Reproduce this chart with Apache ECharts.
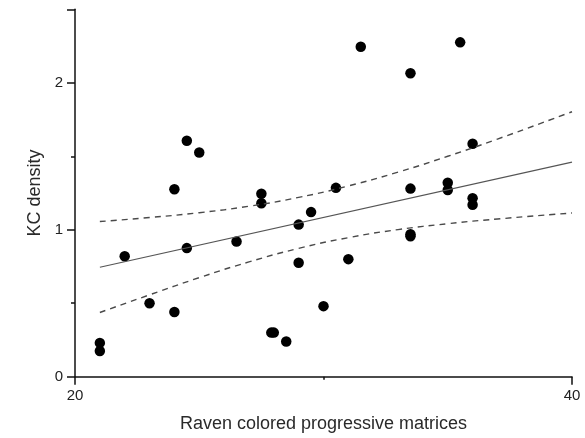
<!DOCTYPE html>
<html>
<head>
<meta charset="utf-8">
<script src="https://cdn.jsdelivr.net/npm/echarts@6/dist/echarts.min.js"></script>
<style>
html,body{margin:0;padding:0;background:#fff;}
#chart{width:585px;height:438px;}
</style>
</head>
<body>
<div id="chart"></div>
<script>
// Data
const pointsX = [21, 21, 22, 23, 24, 24, 24.5, 24.5, 25, 26.5, 27.5, 27.5, 28, 27.9, 28.5, 29, 29, 29.5, 30, 30.5, 31, 31.5, 33.5, 33.5, 33.5, 33.5, 35, 35, 35.5, 36, 36, 36];
const pointsY = [0.23, 0.175, 0.82, 0.50, 0.44, 1.275, 0.875, 1.605, 1.525, 0.92, 1.245, 1.18, 0.30, 0.30, 0.24, 1.035, 0.775, 1.12, 0.48, 1.285, 0.80, 2.245, 2.065, 1.28, 0.97, 0.955, 1.32, 1.27, 2.275, 1.585, 1.215, 1.17];
const fitX = [21, 40];
const fitY = [0.745, 1.46];
const bandX = [21, 23, 25, 27, 29, 31, 33, 35, 37, 40];
const bandUpper = [1.056, 1.083, 1.116, 1.160, 1.220, 1.298, 1.392, 1.500, 1.617, 1.803];
const bandLower = [0.437, 0.557, 0.674, 0.781, 0.873, 0.946, 1.001, 1.041, 1.073, 1.114];
const xTickLabels = ['20', '40'];
const yTickLabels = ['0', '1', '2'];

const pair = (xs, ys) => xs.map((x, i) => [x, ys[i]]);
const font = 'Liberation Sans, Arial, sans-serif';

const chart = echarts.init(document.getElementById('chart'), null, {renderer: 'canvas'});
chart.setOption({
  animation: false,
  backgroundColor: '#fff',
  grid: {left: 75, right: 13, top: 9.3, bottom: 61.3, containLabel: false},
  xAxis: {
    type: 'value', min: 20, max: 40, interval: 20,
    name: 'Raven colored progressive matrices',
    nameLocation: 'middle', nameGap: 38,
    nameTextStyle: {fontFamily: font, fontSize: 18, color: '#2a2a2a'},
    axisLine: {show: true, onZero: false, lineStyle: {color: '#111', width: 1.5}},
    axisTick: {show: true, length: 8, lineStyle: {color: '#111', width: 1.5}},
    minorTick: {show: true, splitNumber: 2, length: 3, lineStyle: {color: '#111', width: 1.5}},
    axisLabel: {fontFamily: font, fontSize: 15, color: '#222', margin: 12,
      formatter: v => xTickLabels.includes(String(v)) ? String(v) : ''},
    splitLine: {show: false}
  },
  yAxis: [{
    type: 'value', min: 0, max: 2.5, interval: 0.5,
    name: 'KC density',
    nameLocation: 'middle', nameGap: 29, nameRotate: 90,
    nameTextStyle: {fontFamily: font, fontSize: 18, color: '#2a2a2a'},
    axisLine: {show: true, onZero: false, lineStyle: {color: '#111', width: 1.5}},
    axisTick: {show: true, length: 4, lineStyle: {color: '#111', width: 1.5}},
    axisLabel: {fontFamily: font, fontSize: 15, color: '#222', margin: 12,
      formatter: v => yTickLabels.includes(String(v)) ? String(v) : ''},
    splitLine: {show: false}
  }, {
    type: 'value', min: 0, max: 2.5, interval: 1, position: 'left', offset: 0,
    axisLine: {show: false},
    axisTick: {show: true, length: 8, lineStyle: {color: '#111', width: 1.5}},
    axisLabel: {show: false},
    splitLine: {show: false}
  }],
  series: [
    {
      type: 'line', data: pair(fitX, fitY), symbol: 'none', silent: true,
      lineStyle: {color: '#555', width: 1.2}
    },
    {
      type: 'line', data: pair(bandX, bandUpper), symbol: 'none', smooth: true, silent: true,
      lineStyle: {color: '#4a4a4a', width: 1.4, type: [6, 5]}
    },
    {
      type: 'line', data: pair(bandX, bandLower), symbol: 'none', smooth: true, silent: true,
      lineStyle: {color: '#4a4a4a', width: 1.4, type: [6, 5]}
    },
    {
      type: 'scatter', data: pair(pointsX, pointsY), symbol: 'circle', symbolSize: 10.5,
      itemStyle: {color: '#000', opacity: 1}
    }
  ]
});
</script>
</body>
</html>
